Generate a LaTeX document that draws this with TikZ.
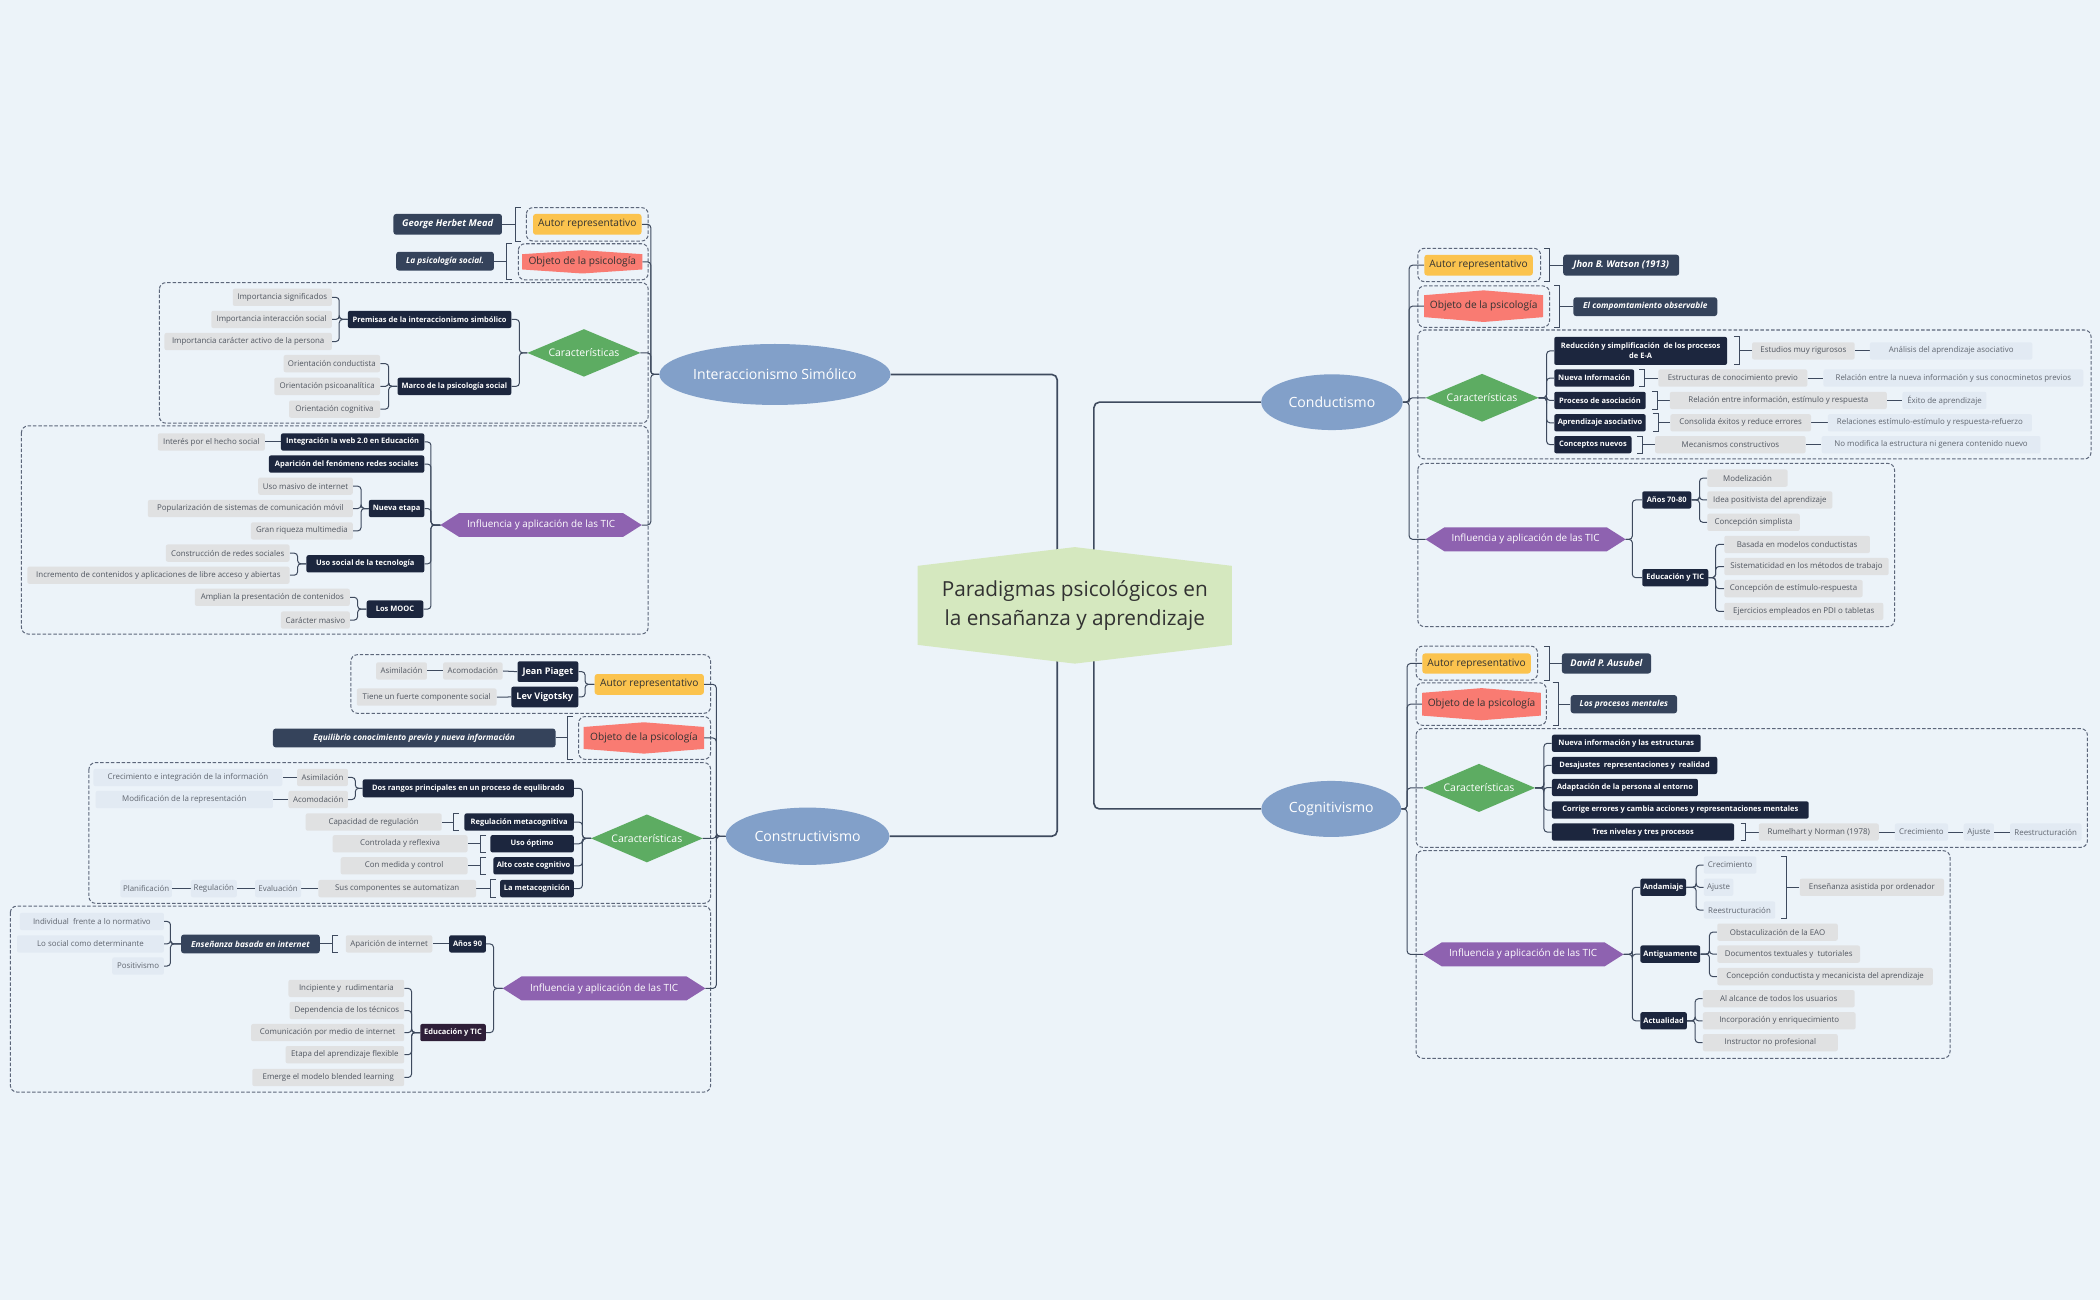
\documentclass[tikz,border=0pt]{standalone}
\usepackage{fontspec}
\setmainfont{Open Sans}
\usetikzlibrary{shapes.geometric}
\definecolor{bgC}{RGB}{236,243,249}
\definecolor{lnC}{RGB}{62,74,94}
\definecolor{bdC}{RGB}{92,102,122}
\definecolor{lfC}{RGB}{224,225,226}
\definecolor{lfT}{RGB}{80,86,96}
\definecolor{llC}{RGB}{226,234,243}
\definecolor{llT}{RGB}{96,102,112}
\definecolor{dkC}{RGB}{28,38,62}
\definecolor{plC}{RGB}{46,30,56}
\definecolor{slC}{RGB}{53,67,91}
\definecolor{yeC}{RGB}{251,195,78}
\definecolor{saC}{RGB}{249,123,114}
\definecolor{txC}{RGB}{50,50,50}
\definecolor{grC}{RGB}{93,172,98}
\definecolor{puC}{RGB}{142,98,176}
\definecolor{elC}{RGB}{130,160,201}
\definecolor{ctC}{RGB}{213,232,191}
\pgfdeclarelayer{bgl}
\pgfdeclarelayer{bndl}
\pgfdeclarelayer{linel}
\pgfdeclarelayer{shpl}
\pgfsetlayers{bgl,bndl,linel,shpl,main}
\newcommand\brkL[3]{\draw[brk] ({#1+4},#2) -- (#1,#2) -- (#1,#3) -- ({#1+4},#3);}
\newcommand\brkR[3]{\draw[brk] ({#1-4},#2) -- (#1,#2) -- (#1,#3) -- ({#1-4},#3);}
\newcommand\objshp[2]{\fill[saC] (#1.north west) -- ([yshift=#2]#1.north) -- (#1.north east) -- (#1.south east) -- ([yshift=-#2]#1.south) -- (#1.south west) -- cycle;}
\newcommand\dmdshp[1]{\fill[grC] (#1.west) -- (#1.north) -- (#1.east) -- (#1.south) -- cycle;}
\newcommand\infshp[1]{\fill[puC] (#1.west) -- ([xshift=14pt]#1.north west) -- ([xshift=-14pt]#1.north east) -- (#1.east) -- ([xshift=-14pt]#1.south east) -- ([xshift=14pt]#1.south west) -- cycle;}
\begin{document}
\begin{tikzpicture}[x=1pt,y=-1pt,
 conn/.style={draw=lnC, line width=0.75pt, rounded corners=2.5pt},
 mconn/.style={draw=lnC, line width=1.2pt, rounded corners=4pt},
 brk/.style={draw=lnC, line width=0.75pt},
 bnd/.style={draw=bdC, line width=0.75pt, dash pattern=on 2.6pt off 1.4pt, rounded corners=5pt},
 lf/.style={fill=lfC, text=lfT, rounded corners=1.5pt, font=\fontsize{5.9}{7}\selectfont, minimum height=12.9pt, inner xsep=2pt, inner ysep=0pt},
 ll/.style={lf, fill=llC, text=llT},
 dk/.style={fill=dkC, text=white, rounded corners=1.5pt, font=\fontsize{5.6}{6.6}\selectfont\bfseries, minimum height=12.9pt, inner xsep=2pt, inner ysep=0pt},
 dkL/.style={dk, font=\fontsize{6.8}{8}\selectfont\bfseries, minimum height=15.4pt},
 sl/.style={fill=slC, text=white, rounded corners=2pt, font=\fontsize{6.2}{7.4}\selectfont\bfseries\itshape, minimum height=14pt, inner xsep=2pt, inner ysep=0pt},
 slA/.style={sl, font=\fontsize{7}{8.4}\selectfont\bfseries\itshape, minimum height=15.5pt},
 autor/.style={fill=yeC, text=txC, rounded corners=2pt, font=\fontsize{7.6}{9}\selectfont, minimum height=15.5pt, inner sep=0pt},
 objt/.style={text=txC, font=\fontsize{7.6}{9}\selectfont, inner sep=0pt},
 chr/.style={text=white, font=\fontsize{7.8}{9.4}\selectfont, inner sep=0pt},
 infl/.style={text=white, font=\fontsize{7.4}{8.8}\selectfont, inner sep=0pt, minimum height=17.4pt},
 topic/.style={ellipse, fill=elC, text=white, font=\fontsize{10.5}{12.6}\selectfont, inner sep=0pt},
]
\useasboundingbox (0,0) rectangle (1568,971);
\begin{pgfonlayer}{bgl}
\fill[bgC] (0,0) rectangle (1568,971);
\end{pgfonlayer}

% ================= center and topics
\node[font=\fontsize{15.5}{21.4}\selectfont, text=txC, align=center, minimum width=234.3pt, minimum height=86.6pt, inner sep=0pt] (ctr) at (802.5,452) {Paradigmas psicológicos en\\la ensañanza y aprendizaje};
\node[topic, minimum width=167.7pt, minimum height=45.5pt] (is) at (578.6,279.6) {Interaccionismo Simólico};
\node[topic, minimum width=122pt, minimum height=42.8pt] (cs) at (603,624.4) {Constructivismo};
\node[topic, minimum width=105.6pt, minimum height=41.6pt] (cd) at (994.5,300.3) {Conductismo};
\node[topic, minimum width=104.3pt, minimum height=41.8pt] (cg) at (994,604) {Cognitivismo};

% ================= Interaccionismo
\node[autor, minimum width=81pt] (isA) at (438.5,167.5) {Autor representativo};
\node[slA, anchor=east, minimum width=81pt] (isAm) at (375,167.5) {George Herbet Mead};
\node[objt, minimum width=89.5pt, minimum height=11pt] (isO) at (434.75,195.5) {Objeto de la psicología};
\node[sl, anchor=east, minimum width=73pt] (isOm) at (369,195) {La psicología social.};
\node[chr, minimum width=84pt, minimum height=35pt] (isC) at (436,263.5) {Características};
\node[dk, anchor=east, minimum width=122pt] (isC1) at (382,238.5) {Premisas de la interaccionismo simbólico};
\node[lf, anchor=east, minimum width=74pt] (isC1a) at (248,222) {Importancia significados};
\node[lf, anchor=east, minimum width=90pt] (isC1b) at (248,238.5) {Importancia interacción social};
\node[lf, anchor=east, minimum width=125pt] (isC1c) at (248,255) {Importancia carácter activo de la persona};
\node[dk, anchor=east, minimum width=85pt] (isC2) at (382,288.5) {Marco de la psicología social};
\node[lf, anchor=east, minimum width=72pt] (isC2a) at (284,271.5) {Orientación conductista};
\node[lf, anchor=east, minimum width=79pt] (isC2b) at (284,288.5) {Orientación psicoanalítica};
\node[lf, anchor=east, minimum width=68pt] (isC2c) at (284,305.5) {Orientación cognitiva};
\node[infl, minimum width=150pt] (isT) at (404,392) {Influencia y aplicación de las TIC};
\node[dk, anchor=east, minimum width=107pt] (isT1) at (317,330) {Integración la web 2.0 en Educación};
\node[lf, anchor=east, minimum width=80pt] (isT1a) at (198,330) {Interés por el hecho social};
\node[dk, anchor=east, minimum width=116pt] (isT2) at (317,346.5) {Aparición del fenómeno redes sociales};
\node[dk, anchor=east, minimum width=41.4pt] (isT3) at (317,379.7) {Nueva etapa};
\node[lf, anchor=east, minimum width=70.6pt] (isT3a) at (263.6,363) {Uso masivo de internet};
\node[lf, anchor=east, minimum width=153pt] (isT3b) at (263.6,379.7) {Popularización de sistemas de comunicación móvil};
\node[lf, anchor=east, minimum width=76pt] (isT3c) at (263.6,396.4) {Gran riqueza multimedia};
\node[dk, anchor=east, minimum width=88pt] (isT4) at (317,421) {Uso social de la tecnología};
\node[lf, anchor=east, minimum width=92.4pt] (isT4a) at (216.4,413) {Construcción de redes sociales};
\node[lf, anchor=east, minimum width=195.8pt] (isT4b) at (216.4,429.5) {Incremento de contenidos y aplicaciones de libre acceso y abiertas};
\node[dk, anchor=east, minimum width=42.3pt] (isT5) at (316.3,454.8) {Los MOOC};
\node[lf, anchor=east, minimum width=115.7pt] (isT5a) at (261.4,446) {Amplian la presentación de contenidos};
\node[lf, anchor=east, minimum width=51.4pt] (isT5b) at (261.4,463) {Carácter masivo};

% ================= Constructivismo
\node[autor, minimum width=81.5pt] (csA) at (484.8,511) {Autor representativo};
\node[dkL, anchor=east, minimum width=45.4pt] (csA1) at (432,501.5) {Jean Piaget};
\node[lf, anchor=east, minimum width=44.5pt] (csA1a) at (375.5,501) {Acomodación};
\node[lf, anchor=east, minimum width=38pt] (csA1b) at (319,501) {Asimilación};
\node[dkL, anchor=east, minimum width=50pt] (csA2) at (432,520.4) {Lev Vigotsky};
\node[lf, anchor=east, minimum width=104.4pt] (csA2a) at (371,520.5) {Tiene un fuerte componente social};
\node[objt, minimum width=89.5pt, minimum height=16pt] (csO) at (480.8,551) {Objeto de la psicología};
\node[sl, anchor=east, minimum width=211pt] (csOm) at (415,551) {Equilibrio conocimiento previo y nueva información};
\node[chr, minimum width=83pt, minimum height=35.3pt] (csC) at (483,626) {Características};
\node[dk, anchor=east, minimum width=157.6pt, minimum height=13.4pt] (csC1) at (428.6,588.6) {Dos rangos principales en un proceso de equlibrado};
\node[lf, anchor=east, minimum width=38pt] (csC1a) at (260,580.5) {Asimilación};
\node[lf, anchor=east, minimum width=44.4pt] (csC1b) at (260,597) {Acomodación};
\node[ll, anchor=east, minimum width=141pt] (csC1a1) at (211,580.5) {Crecimiento e integración de la información};
\node[ll, anchor=east, minimum width=132.4pt] (csC1b1) at (204,597) {Modificación de la representación};
\node[dk, anchor=east, minimum width=81.6pt] (csC2) at (428.6,613.8) {Regulación metacognitiva};
\node[lf, anchor=east, minimum width=101.6pt] (csC2a) at (330,613.8) {Capacidad de regulación};
\node[dk, anchor=east, minimum width=62.2pt] (csC3) at (428.6,630) {Uso óptimo};
\node[lf, anchor=east, minimum width=100.7pt] (csC3a) at (349.3,630) {Controlada y reflexiva};
\node[dk, anchor=east, minimum width=60pt] (csC4) at (428.6,646.5) {Alto coste cognitivo};
\node[lf, anchor=east, minimum width=94.7pt] (csC4a) at (349.3,646.5) {Con medida y control};
\node[dk, anchor=east, minimum width=55pt] (csC5) at (428.6,663.5) {La metacognición};
\node[lf, anchor=east, minimum width=117.8pt] (csC5a) at (355.7,663.5) {Sus componentes se automatizan};
\node[ll, anchor=east, minimum width=34.3pt] (csC5b) at (225,663.5) {Evaluación};
\node[ll, anchor=east, minimum width=34.3pt] (csC5c) at (177,663.5) {Regulación};
\node[ll, anchor=east, minimum width=38.6pt] (csC5d) at (128.6,663.5) {Planificación};
\node[infl, minimum width=151pt] (csT) at (451,738) {Influencia y aplicación de las TIC};
\node[dk, anchor=east, minimum width=27.4pt] (csT1) at (363,704.8) {Años 90};
\node[lf, anchor=east, minimum width=64.6pt] (csT1a) at (323,704.8) {Aparición de internet};
\node[sl, anchor=east, minimum width=103.6pt] (csT1b) at (239,704.8) {Enseñanza basada en internet};
\node[ll, anchor=east, minimum width=107.6pt] (csT1b1) at (122.6,688) {Individual\ \ frente a lo normativo};
\node[ll, anchor=east, minimum width=109.7pt] (csT1b2) at (122.6,704.8) {Lo social como determinante};
\node[ll, anchor=east, minimum width=38.6pt] (csT1b3) at (122.6,721.3) {Positivismo};
\node[dk, fill=plC, anchor=east, minimum width=49pt] (csT2) at (363,771) {Educación y TIC};
\node[lf, anchor=east, minimum width=86.4pt] (csT2a) at (302,738) {Incipiente y\ \ rudimentaria};
\node[lf, anchor=east, minimum width=85.6pt] (csT2b) at (302,754.5) {Dependencia de los técnicos};
\node[lf, anchor=east, minimum width=114.3pt] (csT2c) at (302,771) {Comunicación por medio de internet};
\node[lf, anchor=east, minimum width=88.6pt] (csT2d) at (302,787.5) {Etapa del aprendizaje flexible};
\node[lf, anchor=east, minimum width=113.4pt] (csT2e) at (302,804.5) {Emerge el modelo blended learning};

% ================= Conductismo
\node[autor, minimum width=81pt] (cdA) at (1104,198) {Autor representativo};
\node[slA, anchor=west, minimum width=86.6pt, minimum height=15.6pt] (cdAm) at (1167,198) {Jhon B. Watson (1913)};
\node[objt, minimum width=88.4pt, minimum height=16pt] (cdO) at (1107.8,228.6) {Objeto de la psicología};
\node[sl, anchor=west, minimum width=107.4pt] (cdOm) at (1174.6,229) {El compomtamiento observable};
\node[chr, minimum width=84pt, minimum height=35.3pt] (cdC) at (1106.6,297) {Características};
\node[dk, anchor=west, minimum width=129pt, minimum height=21pt, align=center, font=\fontsize{5.6}{7.4}\selectfont\bfseries] (cdC1) at (1160.3,262) {Reducción y simplificación\ \ de los procesos\\de E-A};
\node[lf, anchor=west, minimum width=76.6pt] (cdC1a) at (1308,262) {Estudios muy rigurosos};
\node[ll, anchor=west, minimum width=121.3pt] (cdC1b) at (1396,262) {Análisis del aprendizaje asociativo};
\node[dk, anchor=west, minimum width=59.7pt] (cdC2) at (1160.3,282.3) {Nueva Información};
\node[lf, anchor=west, minimum width=111.3pt] (cdC2a) at (1238,282.3) {Estructuras de conocimiento previo};
\node[ll, anchor=west, minimum width=194pt] (cdC2b) at (1361.3,282.3) {Relación entre la nueva información y sus conocminetos previos};
\node[dk, anchor=west, minimum width=68.3pt] (cdC3) at (1160.3,299) {Proceso de asociación};
\node[lf, anchor=west, minimum width=162pt] (cdC3a) at (1246.6,299) {Relación entre información, estímulo y respuesta};
\node[ll, anchor=west, minimum width=62.7pt] (cdC3b) at (1420.3,299) {Éxito de aprendizaje};
\node[dk, anchor=west, minimum width=68.3pt] (cdC4) at (1160.3,315.7) {Aprendizaje asociativo};
\node[lf, anchor=west, minimum width=105pt] (cdC4a) at (1247,315.7) {Consolida éxitos y reduce errores};
\node[ll, anchor=west, minimum width=152.4pt] (cdC4b) at (1364.6,315.7) {Relaciones estímulo-estímulo y respuesta-refuerzo};
\node[dk, anchor=west, minimum width=57.7pt] (cdC5) at (1160.3,332) {Conceptos nuevos};
\node[lf, anchor=west, minimum width=112.4pt] (cdC5a) at (1235.6,332) {Mecanismos constructivos};
\node[ll, anchor=west, minimum width=163.3pt] (cdC5b) at (1360,332) {No modifica la estructura ni genera contenido nuevo};
\node[infl, minimum width=149pt] (cdT) at (1139.1,402.7) {Influencia y aplicación de las TIC};
\node[dk, anchor=west, minimum width=36.6pt] (cdT1) at (1226,373.3) {Años 70-80};
\node[lf, anchor=west, minimum width=60pt] (cdT1a) at (1274.6,357) {Modelización};
\node[lf, anchor=west, minimum width=93.4pt] (cdT1b) at (1274.6,373.3) {Idea positivista del aprendizaje};
\node[lf, anchor=west, minimum width=69pt] (cdT1c) at (1274.6,390) {Concepción simplista};
\node[dk, anchor=west, minimum width=49.3pt] (cdT2) at (1226,431.3) {Educación y TIC};
\node[lf, anchor=west, minimum width=108.7pt] (cdT2a) at (1287.3,406.5) {Basada en modelos conductistas};
\node[lf, anchor=west, minimum width=122.7pt] (cdT2b) at (1287.3,423) {Sistematicidad en los métodos de trabajo};
\node[lf, anchor=west, minimum width=103.3pt] (cdT2c) at (1287.3,439.5) {Concepción de estímulo-respuesta};
\node[lf, anchor=west, minimum width=118.7pt] (cdT2d) at (1287.3,456.5) {Ejercicios empleados en PDI o tabletas};

% ================= Cognitivismo
\node[autor, minimum width=81pt, minimum height=15pt] (cgA) at (1102.5,495.4) {Autor representativo};
\node[slA, anchor=west, minimum width=66.6pt, minimum height=15pt] (cgAm) at (1166,495.4) {David P. Ausubel};
\node[objt, minimum width=88.3pt, minimum height=16.6pt] (cgO) at (1106.2,525.8) {Objeto de la psicología};
\node[sl, anchor=west, minimum width=79.4pt, minimum height=13.6pt] (cgOm) at (1172.6,525.8) {Los procesos mentales};
\node[chr, minimum width=83.4pt, minimum height=35.5pt] (cgC) at (1104.3,588.3) {Características};
\node[dk, anchor=west, minimum width=111pt] (cgC1) at (1158.6,555) {Nueva información y las estructuras};
\node[dk, anchor=west, minimum width=123.4pt] (cgC2) at (1158.6,571.5) {Desajustes\ \ representaciones y\ \ realidad};
\node[dk, anchor=west, minimum width=109pt] (cgC3) at (1158.6,588) {Adaptación de la persona al entorno};
\node[dk, anchor=west, minimum width=191.7pt] (cgC4) at (1158.6,604.8) {Corrige errores y cambia acciones y representaciones mentales};
\node[dk, anchor=west, minimum width=136pt] (cgC5) at (1158.6,621.3) {Tres niveles y tres procesos};
\node[lf, anchor=west, minimum width=89.6pt] (cgC5a) at (1313,621.3) {Rumelhart y Norman (1978)};
\node[ll, anchor=west, minimum width=39.7pt] (cgC5b) at (1414.6,621.3) {Crecimiento};
\node[ll, anchor=west, minimum width=22.6pt] (cgC5c) at (1466,621.3) {Ajuste};
\node[ll, anchor=west, minimum width=53.4pt] (cgC5d) at (1500.6,621.3) {Reestructuración};
\node[infl, minimum width=149.4pt] (cgT) at (1137.3,712.6) {Influencia y aplicación de las TIC};
\node[dk, anchor=west, minimum width=34pt] (cgT1) at (1224.6,662.5) {Andamiaje};
\node[ll, anchor=west, minimum width=39.3pt] (cgT1a) at (1272,645.9) {Crecimiento};
\node[ll, anchor=west, minimum width=22pt] (cgT1b) at (1272,662.5) {Ajuste};
\node[ll, anchor=west, minimum width=53.3pt] (cgT1c) at (1272,679.5) {Reestructuración};
\node[lf, anchor=west, minimum width=107.7pt] (cgT1d) at (1343.6,662.5) {Enseñanza asistida por ordenador};
\node[dk, anchor=west, minimum width=44.7pt] (cgT2) at (1224.6,712.4) {Antiguamente};
\node[lf, anchor=west, minimum width=90pt] (cgT2a) at (1282,696) {Obstaculización de la EAO};
\node[lf, anchor=west, minimum width=106.6pt] (cgT2b) at (1282,712.4) {Documentos textuales y\ \ tutoriales};
\node[lf, anchor=west, minimum width=161pt] (cgT2c) at (1282,729.2) {Concepción conductista y mecanicista del aprendizaje};
\node[dk, anchor=west, minimum width=34.7pt] (cgT3) at (1224.6,762.2) {Actualidad};
\node[lf, anchor=west, minimum width=113.3pt] (cgT3a) at (1271.3,745.7) {Al alcance de todos los usuarios};
\node[lf, anchor=west, minimum width=114pt] (cgT3b) at (1271.3,762.2) {Incorporación y enriquecimiento};
\node[lf, anchor=west, minimum width=100.7pt] (cgT3c) at (1271.3,778.5) {Instructor no profesional};

% ================= custom shapes
\begin{pgfonlayer}{shpl}
\fill[ctC] (ctr.north) -- ([yshift=-14pt]ctr.north east) -- ([yshift=14pt]ctr.south east) -- (ctr.south) -- ([yshift=14pt]ctr.south west) -- ([yshift=-14pt]ctr.north west) -- cycle;
\objshp{isO}{3pt}
\objshp{csO}{3.5pt}
\objshp{cdO}{3.6pt}
\objshp{cgO}{3.5pt}
\dmdshp{isC}\dmdshp{csC}\dmdshp{cdC}\dmdshp{cgC}
\infshp{isT}\infshp{csT}\infshp{cdT}\infshp{cgT}
\end{pgfonlayer}

% ================= boundaries
\begin{pgfonlayer}{bndl}
\draw[bnd] (393,155) rectangle (484,180);
\draw[bnd] (387,182) rectangle (484,209);
\draw[bnd] (119,211) rectangle (484,316);
\draw[bnd] (16,318) rectangle (484,473.4);
\draw[bnd] (262,488.8) rectangle (530.6,532.6);
\draw[bnd] (432,535) rectangle (530.6,567);
\draw[bnd] (66.4,569.4) rectangle (530.6,674.5);
\draw[bnd] (7.7,676.5) rectangle (530.6,815.4);
\draw[bnd] (1058.6,185.4) rectangle (1150.3,210.3);
\draw[bnd] (1058.6,213.5) rectangle (1157,244.4);
\draw[bnd] (1058.6,246.4) rectangle (1561.3,342.7);
\draw[bnd] (1058.6,346) rectangle (1414.6,467.9);
\draw[bnd] (1057.3,482.4) rectangle (1148,507.8);
\draw[bnd] (1057.3,509.8) rectangle (1154.6,541.6);
\draw[bnd] (1057.3,544) rectangle (1558.6,632.7);
\draw[bnd] (1057.3,635.2) rectangle (1456,790.2);
\end{pgfonlayer}

% ================= connectors
\begin{pgfonlayer}{linel}
\draw[mconn] (is.east) -| ([xshift=-13.1pt,yshift=-3pt]ctr.north);
\draw[mconn] (cd.west) -| ([xshift=14.3pt,yshift=-3pt]ctr.north);
\draw[mconn] (cs.east) -| ([xshift=-13.1pt,yshift=3pt]ctr.south);
\draw[mconn] (cg.west) -| ([xshift=14.3pt,yshift=3pt]ctr.south);
% interaccionismo
\foreach \n in {isA,isO,isC,isT} \draw[conn] (is.west) -- ++(-6.2,0) |- (\n.east);
\draw[conn] (isAm.east) -- ++(10,0);
\draw[conn] (isOm.east) -- ++(9,0);
\brkL{385}{155}{180}
\brkL{378}{182}{209}
\foreach \n in {isC1,isC2} \draw[conn] (isC.west) -- ++(-6,0) |- (\n.east);
\foreach \n in {isC1a,isC1b,isC1c} \draw[conn] (isC1.west) -- ++(-6.3,0) |- (\n.east);
\foreach \n in {isC2a,isC2b,isC2c} \draw[conn] (isC2.west) -- ++(-6.4,0) |- (\n.east);
\foreach \n in {isT1,isT2,isT3,isT4,isT5} \draw[conn] (isT.west) -- ++(-7,0) |- (\n.east);
\draw[conn] (isT1.west) -- (isT1a.east);
\foreach \n in {isT3a,isT3b,isT3c} \draw[conn] (isT3.west) -- ++(-5.6,0) |- (\n.east);
\foreach \n in {isT4a,isT4b} \draw[conn] (isT4.west) -- ++(-6.4,0) |- (\n.east);
\foreach \n in {isT5a,isT5b} \draw[conn] (isT5.west) -- ++(-6.6,0) |- (\n.east);
% constructivismo
\foreach \n in {csA,csO,csC,csT} \draw[conn] (cs.west) -- ++(-7,0) |- (\n.east);
\foreach \n in {csA1,csA2} \draw[conn] (csA.west) -- ++(-7,0) |- (\n.east);
\draw[conn] (csA1.west) -- (csA1a.east);
\draw[conn] (csA1a.west) -- (csA1b.east);
\draw[conn] (csA2.west) -- (csA2a.east);
\draw[conn] (csOm.east) -- ++(9,0);
\brkL{424}{535}{567}
\foreach \n in {csC1,csC2,csC3,csC4,csC5} \draw[conn] (csC.west) -- ++(-6.4,0) |- (\n.east);
\foreach \n in {csC1a,csC1b} \draw[conn] (csC1.west) -- ++(-5.3,0) |- (\n.east);
\draw[conn] (csC1a.west) -- (csC1a1.east);
\draw[conn] (csC1b.west) -- (csC1b1.east);
\draw[conn] (csC2a.east) -- ++(8.6,0); \brkL{338.6}{607.3}{620.2}
\draw[conn] (csC3a.east) -- ++(9.7,0); \brkL{359}{623.7}{636.6}
\draw[conn] (csC4a.east) -- ++(9.7,0); \brkL{359}{640}{653}
\draw[conn] (csC5a.east) -- ++(10.7,0); \brkL{366.4}{657}{670}
\draw[conn] (csC5a.west) -- (csC5b.east);
\draw[conn] (csC5b.west) -- (csC5c.east);
\draw[conn] (csC5c.west) -- (csC5d.east);
\foreach \n in {csT1,csT2} \draw[conn] (csT.west) -- ++(-6.8,0) |- (\n.east);
\draw[conn] (csT1.west) -- (csT1a.east);
\draw[conn] (csT1b.east) -- ++(9.6,0); \brkL{248.6}{698.4}{711.3}
\foreach \n in {csT1b1,csT1b2,csT1b3} \draw[conn] (csT1b.west) -- ++(-7.7,0) |- (\n.east);
\foreach \n in {csT2a,csT2b,csT2c,csT2d,csT2e} \draw[conn] (csT2.west) -- ++(-6.3,0) |- (\n.east);
% conductismo
\foreach \n in {cdA,cdO,cdC,cdT} \draw[conn] (cd.east) -- ++(4.7,0) |- (\n.west);
\draw[conn] (cdAm.west) -- ++(-10,0); \brkR{1157}{185.4}{210.3}
\draw[conn] (cdOm.west) -- ++(-10,0); \brkR{1164.6}{213.5}{244.4}
\foreach \n in {cdC1,cdC2,cdC3,cdC4,cdC5} \draw[conn] (cdC.east) -- ++(6,0) |- (\n.west);
\draw[conn] (cdC1a.west) -- ++(-9.4,0); \brkR{1298.6}{251.4}{272.3}
\draw[conn] (cdC2a.west) -- ++(-10,0); \brkR{1228}{275.8}{288.7}
\draw[conn] (cdC3a.west) -- ++(-9.3,0); \brkR{1237.3}{292.5}{305.6}
\draw[conn] (cdC4a.west) -- ++(-9,0); \brkR{1238}{309}{322.3}
\draw[conn] (cdC5a.west) -- ++(-9.3,0); \brkR{1226.3}{325.6}{338.5}
\draw[conn] (cdC1a.east) -- (cdC1b.west);
\draw[conn] (cdC2a.east) -- (cdC2b.west);
\draw[conn] (cdC3a.east) -- (cdC3b.west);
\draw[conn] (cdC4a.east) -- (cdC4b.west);
\draw[conn] (cdC5a.east) -- (cdC5b.west);
\foreach \n in {cdT1,cdT2} \draw[conn] (cdT.east) -- ++(5,0) |- (\n.west);
\foreach \n in {cdT1a,cdT1b,cdT1c} \draw[conn] (cdT1.east) -- ++(6,0) |- (\n.west);
\foreach \n in {cdT2a,cdT2b,cdT2c,cdT2d} \draw[conn] (cdT2.east) -- ++(5.3,0) |- (\n.west);
% cognitivismo
\foreach \n in {cgA,cgO,cgC,cgT} \draw[conn] (cg.east) -- ++(4.3,0) |- (\n.west);
\draw[conn] (cgAm.west) -- ++(-9,0); \brkR{1157}{482.4}{507.8}
\draw[conn] (cgOm.west) -- ++(-9.3,0); \brkR{1163.3}{509.8}{541.6}
\foreach \n in {cgC1,cgC2,cgC3,cgC4,cgC5} \draw[conn] (cgC.east) -- ++(6.6,0) |- (\n.west);
\draw[conn] (cgC5a.west) -- ++(-9.4,0); \brkR{1303.6}{614.8}{627.7}
\draw[conn] (cgC5a.east) -- (cgC5b.west);
\draw[conn] (cgC5b.east) -- (cgC5c.west);
\draw[conn] (cgC5c.east) -- (cgC5d.west);
\foreach \n in {cgT1,cgT2,cgT3} \draw[conn] (cgT.east) -- ++(6.6,0) |- (\n.west);
\foreach \n in {cgT1a,cgT1b,cgT1c} \draw[conn] (cgT1.east) -- ++(7.4,0) |- (\n.west);
\draw[conn] (cgT1d.west) -- ++(-9.6,0); \brkR{1334}{639.2}{686}
\foreach \n in {cgT2a,cgT2b,cgT2c} \draw[conn] (cgT2.east) -- ++(6.7,0) |- (\n.west);
\foreach \n in {cgT3a,cgT3b,cgT3c} \draw[conn] (cgT3.east) -- ++(6,0) |- (\n.west);
\end{pgfonlayer}
\end{tikzpicture}
\end{document}
